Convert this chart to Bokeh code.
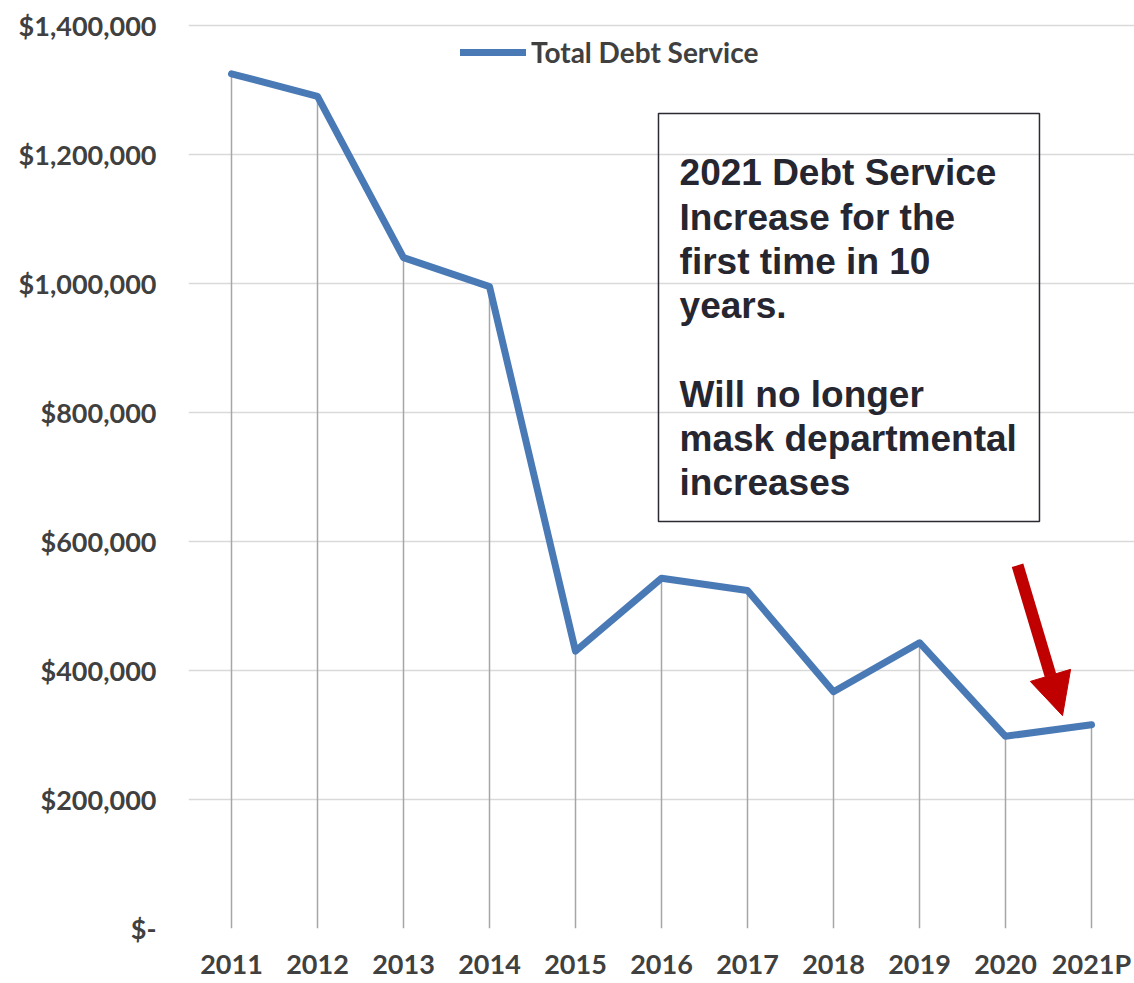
from bokeh.plotting import figure
from bokeh.models import (FactorRange, Range1d, FixedTicker, Legend, LegendItem,
                          BoxAnnotation, Label, Arrow, NormalHead, ColumnDataSource)
from bokeh.embed import file_html
from bokeh.resources import INLINE

# ---- data ----
years = ["2011", "2012", "2013", "2014", "2015", "2016", "2017", "2018", "2019", "2020", "2021P"]
debt_service = [1325000, 1290000, 1040000, 995000, 430000, 543000, 524000, 367000, 443000, 298000, 316000]
y_ticks = [0, 200000, 400000, 600000, 800000, 1000000, 1200000, 1400000]
y_tick_labels = ["$-", "$200,000", "$400,000", "$600,000", "$800,000", "$1,000,000", "$1,200,000", "$1,400,000"]
series_name = "Total Debt Service"
note_text = ("2021 Debt Service\nIncrease for the\nfirst time in 10\nyears.\n\n"
             "Will no longer\nmask departmental\nincreases")

src = ColumnDataSource(dict(year=years, value=debt_service, zero=[0] * len(years)))

p = figure(width=1134, height=983, output_backend="svg", toolbar_location=None,
           x_range=FactorRange(factors=years, range_padding=0, factor_padding=0),
           y_range=Range1d(0, 1420000),
           min_border_left=188, min_border_right=0, min_border_top=12, min_border_bottom=55)
p.outline_line_color = None
p.background_fill_color = "white"
p.border_fill_color = "white"

# drop lines
p.segment(x0="year", y0="zero", x1="year", y1="value", source=src,
          line_color="#a6a6a6", line_width=1.5)

line = p.line(x="year", y="value", source=src, line_color="#4a7ab5", line_width=7,
              line_join="round", line_cap="round")

# axes
p.xgrid.grid_line_color = None
p.ygrid.grid_line_color = "#d9d9d9"
p.ygrid.grid_line_width = 1.5
p.yaxis.ticker = FixedTicker(ticks=y_ticks)
p.yaxis.major_label_overrides = {t: l for t, l in zip(y_ticks, y_tick_labels)}
for ax in (p.xaxis[0], p.yaxis[0]):
    ax.axis_line_color = None
    ax.major_tick_line_color = None
    ax.minor_tick_line_color = None
    ax.major_tick_out = 0
    ax.major_tick_in = 0
    ax.major_label_text_font = "Lato"
    ax.major_label_text_font_style = "bold"
    ax.major_label_text_color = "#404040"
p.yaxis.major_label_text_font_size = "27px"
p.yaxis.major_label_standoff = 32
p.xaxis.major_label_text_font_size = "27px"
p.xaxis.major_label_standoff = 18

# legend
legend = Legend(items=[LegendItem(label=series_name, renderers=[line])],
                location=(272, 859), orientation="horizontal",
                glyph_width=66, glyph_height=20, label_standoff=5,
                padding=0, margin=0, spacing=0,
                border_line_color=None, background_fill_alpha=0,
                label_text_font="Lato", label_text_font_style="bold",
                label_text_font_size="28px", label_text_color="#404040")
p.add_layout(legend)

# annotation box
p.add_layout(BoxAnnotation(left=5.465, right=9.895, bottom=631000, top=1263500,
                           fill_color=None, fill_alpha=0, line_color="#2b2b33", line_width=1.5,
                           line_alpha=1))
p.add_layout(Label(x=5.71, y=1203000, text=note_text, text_baseline="top", text_align="left",
                   text_font="Liberation Sans", text_font_style="bold", text_font_size="37px",
                   text_color="#262630", text_line_height=1.08))

# red arrow
p.add_layout(Arrow(x_start=9.64, y_start=563000, x_end=10.163, y_end=330000,
                   line_color="#c00000", line_width=12,
                   end=NormalHead(size=42, fill_color="#c00000", line_color="#c00000")))

open("out.html", "w").write(file_html(p, INLINE))
